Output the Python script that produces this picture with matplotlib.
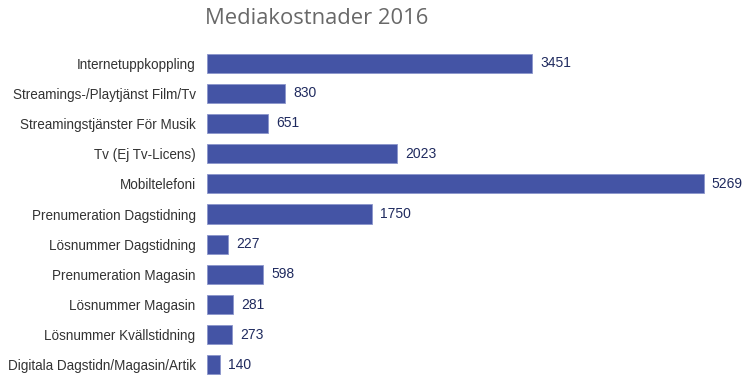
import matplotlib
matplotlib.use("Agg")
import matplotlib.pyplot as plt

categories = [
    "Internetuppkoppling",
    "Streamings-/Playtjänst Film/Tv",
    "Streamingstjänster För Musik",
    "Tv (Ej Tv-Licens)",
    "Mobiltelefoni",
    "Prenumeration Dagstidning",
    "Lösnummer Dagstidning",
    "Prenumeration Magasin",
    "Lösnummer Magasin",
    "Lösnummer Kvällstidning",
    "Digitala Dagstidn/Magasin/Artik",
]
values = [3451, 830, 651, 2023, 5269, 1750, 227, 598, 281, 273, 140]

bar_color = "#4454a5"
value_color = "#1f2a5e"

fig = plt.figure(figsize=(7.5, 3.84), dpi=100)
ax = fig.add_axes([206.7 / 750, 0.0102, 538 / 750, 0.865])

y = range(len(categories))
ax.barh(y, values, height=0.63, color=bar_color, edgecolor="#8b95cc", linewidth=0.6)
ax.set_ylim(len(categories) - 0.5, -0.5)
ax.set_xlim(0, 5705)

for i, v in enumerate(values):
    ax.text(v + 85, i, str(v), va="center", ha="left", fontsize=10,
            color=value_color, family="Liberation Sans")

ax.set_yticks(list(y))
ax.set_yticklabels(categories, fontsize=9.75, color="#333333", family="Liberation Sans")
ax.tick_params(axis="y", length=0, pad=8)
ax.set_xticks([])
for s in ax.spines.values():
    s.set_visible(False)

fig.text(317 / 750, 1 - 18 / 384, "Mediakostnader 2016", ha="center", va="center",
         fontsize=15.8, color="#686868", family="Open Sans")

fig.savefig("out.png", dpi=100)
